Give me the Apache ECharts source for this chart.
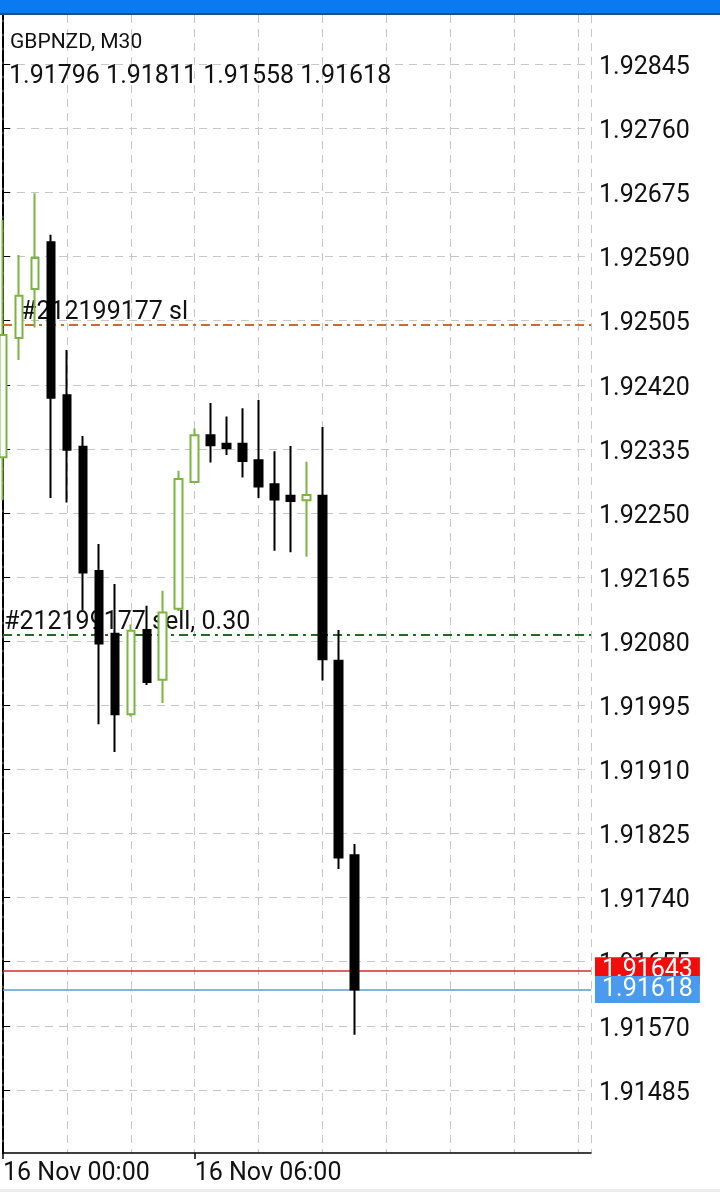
<!DOCTYPE html>
<html><head><meta charset="utf-8">
<script src="https://cdn.jsdelivr.net/npm/echarts@6/dist/echarts.min.js"></script>
<style>html,body{margin:0;padding:0;background:#fff}#c{width:720px;height:1192px}</style>
</head><body><div id="c"></div>
<script>
const symbolTitle = 'GBPNZD, M30';
const times = ['16 Nov 00:00','16 Nov 00:30','16 Nov 01:00','16 Nov 01:30','16 Nov 02:00','16 Nov 02:30',
  '16 Nov 03:00','16 Nov 03:30','16 Nov 04:00','16 Nov 04:30','16 Nov 05:00','16 Nov 05:30',
  '16 Nov 06:00','16 Nov 06:30','16 Nov 07:00','16 Nov 07:30','16 Nov 08:00','16 Nov 08:30',
  '16 Nov 09:00','16 Nov 09:30','16 Nov 10:00','16 Nov 10:30','16 Nov 11:00'];
const opens  = [1.92324,1.92482,1.92547,1.92609,1.92406,1.92338,1.92173,1.92090,1.91983,1.92095,1.92029,1.92123,
  1.92291,1.92353,1.92342,1.92342,1.92320,1.92288,1.92273,1.92267,1.92273,1.92054,1.91796];
const highs  = [1.92639,1.92592,1.92674,1.92619,1.92466,1.92352,1.92209,1.92156,1.92102,1.92127,1.92147,1.92306,
  1.92362,1.92396,1.92378,1.92389,1.92400,1.92332,1.92339,1.92318,1.92364,1.92095,1.91811];
const lows   = [1.92267,1.92453,1.92496,1.92270,1.92264,1.92121,1.91970,1.91933,1.91980,1.92022,1.91998,1.92120,
  1.92290,1.92317,1.92327,1.92297,1.92270,1.92200,1.92198,1.92192,1.92028,1.91778,1.91558];
const closes = [1.92486,1.92538,1.92588,1.92403,1.92334,1.92171,1.92077,1.91983,1.92094,1.92026,1.92118,1.92295,
  1.92353,1.92340,1.92336,1.92319,1.92285,1.92268,1.92266,1.92274,1.92056,1.91793,1.91618];
const priceTicks = [1.91485,1.91570,1.91655,1.91740,1.91825,1.91910,1.91995,1.92080,1.92165,1.92250,
  1.92335,1.92420,1.92505,1.92590,1.92675,1.92760,1.92845];
const timeTicks = [0, 12];
const orderId = '#212199177';
const stopLoss = 1.92499;
const sellPrice = 1.92088;
const lots = 0.30;
const askPrice = 1.91643;
const bidPrice = 1.91618;

const yMin = 1.914013, yMax = 1.929104;
const xMax = 36.8125;
const last = opens.length - 1;
const ohlcText = [opens[last], highs[last], lows[last], closes[last]].map(v => v.toFixed(5)).join(' ');
const candleData = opens.map((o, i) => [i, o, closes[i], lows[i], highs[i]]);

const FONT = 'Roboto';
function hLine(v, lineStyle, label) {
  return [{coord: [0, v], lineStyle: lineStyle, label: label}, {coord: [xMax, v]}];
}
const chart = echarts.init(document.getElementById('c'), null, {renderer: 'canvas'});
chart.setOption({
  animation: false,
  backgroundColor: '#fff',
  textStyle: {fontFamily: FONT},
  title: [
    {text: symbolTitle, left: 10, top: 32, padding: 0,
     textStyle: {fontSize: 21, fontWeight: 'normal', color: '#111', fontFamily: FONT}},
    {text: ohlcText, left: 9, top: 64, padding: 0,
     textStyle: {fontSize: 25, fontWeight: 'normal', color: '#111', fontFamily: FONT}}
  ],
  graphic: [
    {type: 'rect', z: 100, shape: {x: 0, y: 0, width: 720, height: 14}, style: {fill: '#0a7af2'}},
    {type: 'rect', z: 100, shape: {x: 0, y: 13, width: 720, height: 2}, style: {fill: '#1d4f86'}},
    {type: 'rect', z: 100, shape: {x: 0, y: 1189, width: 720, height: 3}, style: {fill: '#ececec'}}
  ],
  grid: {left: 2, right: 129, top: 15, bottom: 39, containLabel: false},
  xAxis: [{
    type: 'value', min: 0, max: xMax, interval: 4,
    axisLine: {show: true, onZero: false, lineStyle: {color: '#000', width: 1.5}},
    axisTick: {show: false}, axisLabel: {show: false},
    splitLine: {show: true, lineStyle: {color: '#c6c6c6', type: [8, 6], width: 1}}
  }, {
    type: 'value', min: 0, max: xMax, position: 'bottom',
    axisLine: {show: false}, splitLine: {show: false},
    axisTick: {show: true, customValues: timeTicks, length: 6, lineStyle: {color: '#000', width: 1.5}},
    axisLabel: {customValues: timeTicks, formatter: v => times[Math.round(v)] || '', align: 'left',
      margin: 8, fontSize: 25, color: '#111', fontFamily: FONT}
  }],
  yAxis: [{
    type: 'value', position: 'right', min: yMin, max: yMax,
    axisLine: {show: true, lineStyle: {color: '#000', width: 1.5}},
    axisTick: {show: true, length: 7, customValues: priceTicks, lineStyle: {color: '#000', width: 1}},
    axisLabel: {customValues: priceTicks, margin: 8, fontSize: 25, color: '#111', fontFamily: FONT,
      verticalAlign: 'top', lineHeight: 7, formatter: v => v.toFixed(5)},
    splitLine: {show: true, lineStyle: {color: '#c6c6c6', type: [8, 6], width: 1}}
  }, {
    type: 'value', position: 'left', min: yMin, max: yMax, offset: 1,
    axisLine: {show: true, lineStyle: {color: '#000', width: 2, type: [10, 4]}},
    axisTick: {show: false}, axisLabel: {show: false}, splitLine: {show: false}
  }],
  series: [{
    type: 'line', data: [], z: 1, xAxisIndex: 0, yAxisIndex: 0, silent: true,
    markLine: {
      silent: true, symbol: ['none', 'none'], animation: false, z: 1,
      data: [
        hLine(stopLoss, {color: '#cf6a2c', type: [9, 5, 3, 5], width: 2},
          {formatter: orderId + ' sl', position: 'insideStartTop', distance: [18, 0],
           fontSize: 25, color: '#111', fontFamily: FONT}),
        hLine(sellPrice, {color: '#226b22', type: [9, 5, 3, 5], width: 2},
          {formatter: orderId + ' sell, ' + lots.toFixed(2), position: 'insideStartTop', distance: [1, 0],
           fontSize: 25, color: '#111', fontFamily: FONT}),
        hLine(askPrice, {color: '#d12d2d', type: 'solid', width: 1.5},
          {formatter: askPrice.toFixed(5), position: 'end', distance: 4, fontSize: 25, color: '#fff',
           fontFamily: FONT, backgroundColor: '#f20d0d', padding: [1, 7], lineHeight: 25}),
        hLine(bidPrice, {color: '#5a9ec8', type: 'solid', width: 1.5},
          {formatter: bidPrice.toFixed(5), position: 'end', distance: 4, fontSize: 25, color: '#fff',
           fontFamily: FONT, backgroundColor: '#4a9af0', padding: [1, 7], lineHeight: 25})
      ]
    }
  }, {
    type: 'candlestick', z: 10, xAxisIndex: 0, yAxisIndex: 0,
    data: candleData, encode: {x: 0, y: [1, 2, 3, 4]},
    barWidth: 8,
    itemStyle: {color: '#ffffff', color0: '#000000', borderColor: '#7cb342', borderColor0: '#000000', borderWidth: 2}
  }]
});
</script></body></html>
